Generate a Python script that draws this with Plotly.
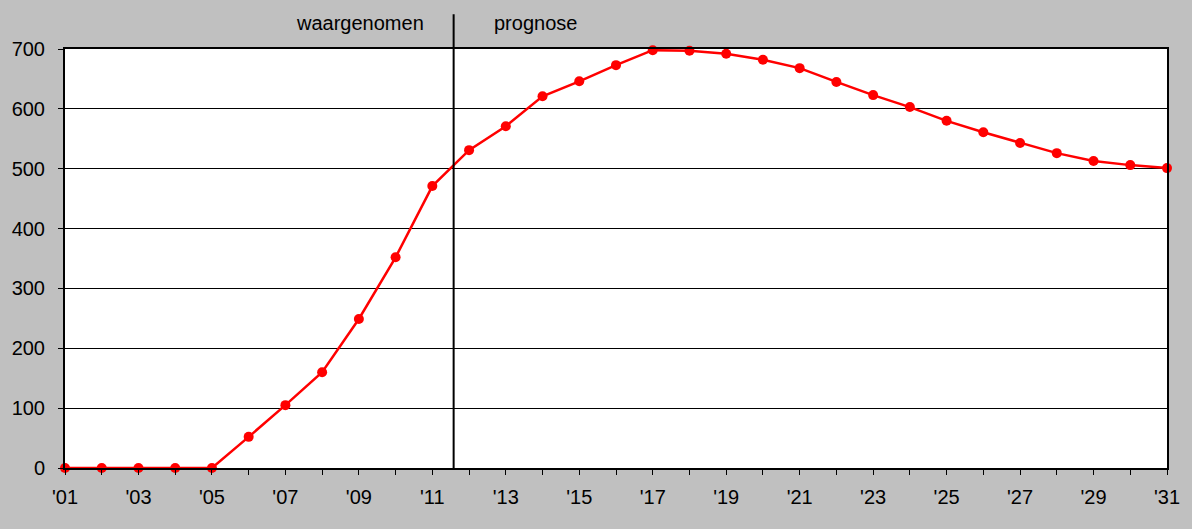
import plotly.graph_objects as go

years = list(range(2001, 2032))
values = [0, 0, 0, 0, 0, 52, 105, 160, 249, 352, 471,
          531, 571, 621, 646, 673, 698, 697, 692, 682, 668,
          645, 623, 603, 580, 561, 543, 526, 513, 506, 501]
tick_years = list(range(2001, 2032, 2))
tick_labels = ["'%02d" % (y % 100) for y in tick_years]
split_year = 2011.58

fig = go.Figure()
fig.add_trace(go.Scatter(
    x=years, y=values, mode='lines+markers',
    line=dict(color='#FF0000', width=2.5),
    marker=dict(color='#FF0000', size=10),
    cliponaxis=False, showlegend=False
))

fig.add_shape(type='line', xref='x', yref='paper',
              x0=split_year, x1=split_year, y0=-0.005, y1=1.083,
              line=dict(color='black', width=2))

fig.add_annotation(x=2009.03, y=1.062, xref='x', yref='paper', text='waargenomen',
                   showarrow=False, xanchor='center', yanchor='middle',
                   font=dict(size=20, color='black'))
fig.add_annotation(x=2013.8, y=1.062, xref='x', yref='paper', text='prognose',
                   showarrow=False, xanchor='center', yanchor='middle',
                   font=dict(size=20, color='black'))

fig.update_layout(
    width=1192, height=529,
    margin=dict(l=64, r=22, t=49, b=61),
    paper_bgcolor='#C0C0C0', plot_bgcolor='white',
    font=dict(family='Liberation Sans, Arial, sans-serif', size=20, color='black'),
)
fig.update_xaxes(range=[2001, 2031], tickvals=tick_years, ticktext=tick_labels,
                 showgrid=False, zeroline=False,
                 showline=True, linecolor='black', linewidth=2, mirror=True,
                 ticks='outside', ticklen=5, tickcolor='black', tickwidth=1,
                 ticklabelstandoff=5,
                 minor=dict(dtick=1, tick0=2001, ticks='outside', ticklen=5, tickcolor='black'))
fig.update_yaxes(range=[0, 700], dtick=100, showgrid=True, gridcolor='black', gridwidth=1,
                 zeroline=False, showline=True, linecolor='black', linewidth=2, mirror=True,
                 ticks='outside', ticklen=5, tickcolor='black',
                 ticklabelstandoff=9)

# drop the browser's default page margin so the figure sits at the window corner
fig.write_html("out.html", config={'displayModeBar': False},
               post_script="document.body.style.margin='0';")
